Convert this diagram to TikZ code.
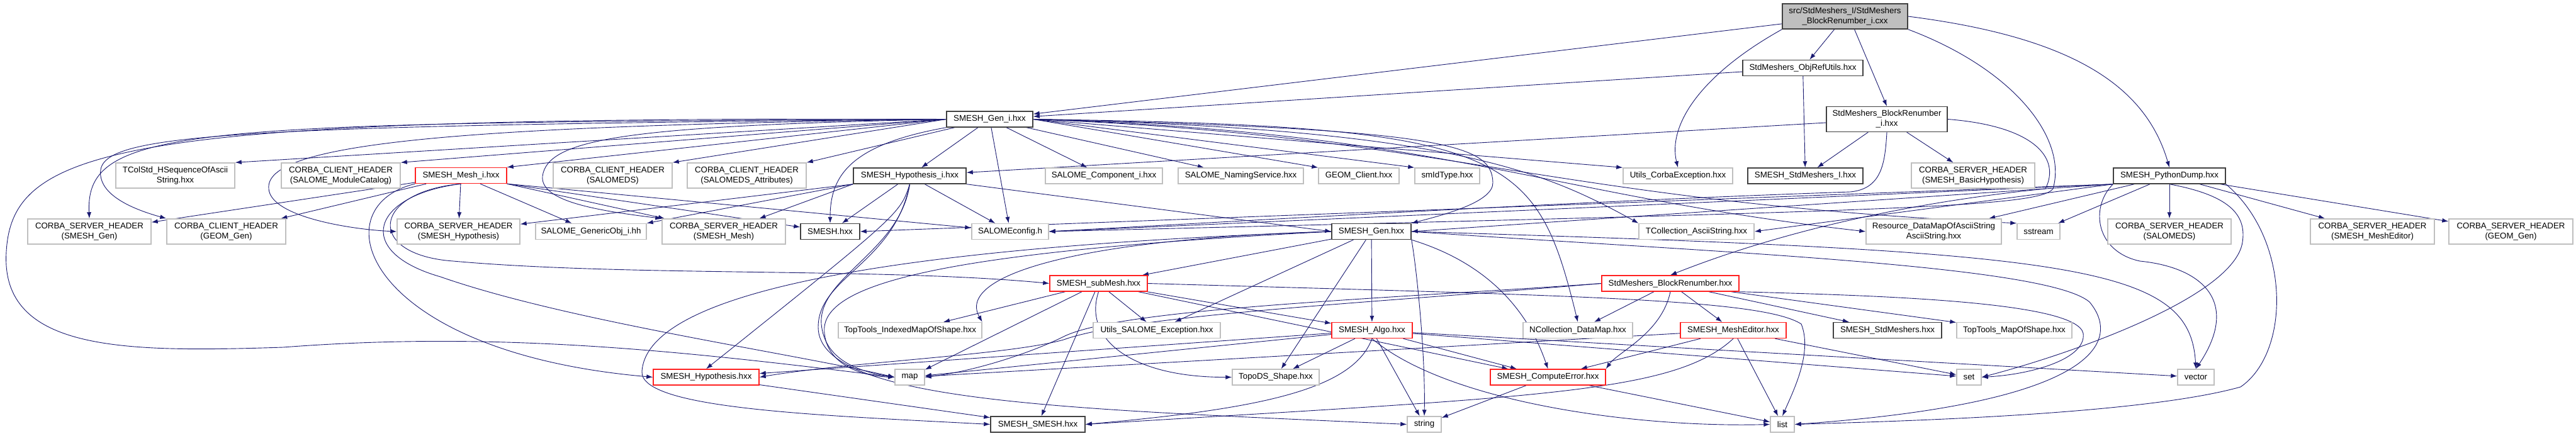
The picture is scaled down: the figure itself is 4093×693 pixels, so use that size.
\documentclass[tikz,border=0pt]{standalone}
\usepackage{fontspec}
\setmainfont{Liberation Sans}
\usetikzlibrary{arrows.meta, backgrounds}

\definecolor{edgeblue}{HTML}{191970}
\definecolor{hdrgray}{HTML}{BFBFBF}
\definecolor{docborder}{HTML}{404040}
\definecolor{truncred}{HTML}{FF2020}

\begin{document}
\begin{tikzpicture}[
    x=1pt, y=-1pt,
    every node/.style={
        rectangle,
        fill=white,
        line width=1.4pt,
        align=center,
        inner sep=0pt,
        minimum height=25pt,
        font=\fontsize{13.3}{16}\selectfont
    },
    hdrfile/.style={draw=hdrgray},
    docfile/.style={draw=docborder},
    truncfile/.style={draw=truncred},
    rootfile/.style={draw=docborder, fill=hdrgray},
    twoline/.style={minimum height=40pt},
    dep/.style={draw=edgeblue, line width=0.9pt, -{Latex[length=10pt,width=7pt]}}
]
    \useasboundingbox (0,0) rectangle (4093,693);

    % top of the graph
    \node (root) [rootfile, twoline, minimum width=199pt] at (2931.5,26) {src/StdMeshers\_I/StdMeshers\\\_BlockRenumber\_i.cxx};
    \node (objref) [docfile, minimum width=191pt] at (2864.5,108) {StdMeshers\_ObjRefUtils.hxx};
    \node (bri) [docfile, twoline, minimum width=192pt] at (2998,189.5) {StdMeshers\_BlockRenumber\\\_i.hxx};
    \node (geni) [docfile, minimum width=137pt] at (1572.5,189.5) {SMESH\_Gen\_i.hxx};

    % second row
    \node (tcolstd) [hdrfile, twoline, minimum width=189pt] at (278.5,279) {TColStd\_HSequenceOfAscii\\String.hxx};
    \node (clientmc) [hdrfile, twoline, minimum width=189pt] at (541.5,279) {CORBA\_CLIENT\_HEADER\\(SALOME\_ModuleCatalog)};
    \node (meshi) [truncfile, minimum width=145pt] at (732.5,279) {SMESH\_Mesh\_i.hxx};
    \node (clientds) [hdrfile, twoline, minimum width=189pt] at (973.5,279) {CORBA\_CLIENT\_HEADER\\(SALOMEDS)};
    \node (clientdsa) [hdrfile, twoline, minimum width=189pt] at (1186.5,279) {CORBA\_CLIENT\_HEADER\\(SALOMEDS\_Attributes)};
    \node (hypi) [docfile, minimum width=179pt] at (1445.5,279.5) {SMESH\_Hypothesis\_i.hxx};
    \node (compi) [hdrfile, minimum width=186pt] at (1754,279.5) {SALOME\_Component\_i.hxx};
    \node (naming) [hdrfile, minimum width=199pt] at (1971.5,279.5) {SALOME\_NamingService.hxx};
    \node (geomcl) [hdrfile, minimum width=128pt] at (2159,279.5) {GEOM\_Client.hxx};
    \node (smid) [hdrfile, minimum width=103pt] at (2299.5,279.5) {smIdType.hxx};
    \node (corbaexc) [hdrfile, minimum width=174pt] at (2666,279.5) {Utils\_CorbaException.hxx};
    \node (stdi) [docfile, minimum width=183pt] at (2868.5,279.5) {SMESH\_StdMeshers\_I.hxx};
    \node (basichyp) [hdrfile, twoline, minimum width=196pt] at (3135,279) {CORBA\_SERVER\_HEADER\\(SMESH\_BasicHypothesis)};
    \node (pydump) [docfile, minimum width=178pt] at (3447,279.5) {SMESH\_PythonDump.hxx};

    % third row
    \node (srvgen) [hdrfile, twoline, minimum width=196pt] at (142,368) {CORBA\_SERVER\_HEADER\\(SMESH\_Gen)};
    \node (clgeom) [hdrfile, twoline, minimum width=189pt] at (359.5,368) {CORBA\_CLIENT\_HEADER\\(GEOM\_Gen)};
    \node (srvhyp) [hdrfile, twoline, minimum width=195pt] at (728.5,368) {CORBA\_SERVER\_HEADER\\(SMESH\_Hypothesis)};
    \node (genobj) [hdrfile, minimum width=176pt] at (939,368) {SALOME\_GenericObj\_i.hh};
    \node (srvmesh) [hdrfile, twoline, minimum width=196pt] at (1150,368) {CORBA\_SERVER\_HEADER\\(SMESH\_Mesh)};
    \node (smesh) [docfile, minimum width=94pt] at (1319,368) {SMESH.hxx};
    \node (salomeconfig) [hdrfile, minimum width=122pt] at (1605,368) {SALOMEconfig.h};
    \node (smeshgen) [docfile, minimum width=126pt] at (2179,368) {SMESH\_Gen.hxx};
    \node (tcoll) [hdrfile, minimum width=183pt] at (2695.5,368) {TCollection\_AsciiString.hxx};
    \node (resource) [hdrfile, twoline, minimum width=215pt] at (3072.5,368) {Resource\_DataMapOfAsciiString\\AsciiString.hxx};
    \node (sstream) [hdrfile, minimum width=68pt] at (3239,368) {sstream};
    \node (srvds) [hdrfile, twoline, minimum width=196pt] at (3447,368) {CORBA\_SERVER\_HEADER\\(SALOMEDS)};
    \node (srvme) [hdrfile, twoline, minimum width=197pt] at (3769.5,368) {CORBA\_SERVER\_HEADER\\(SMESH\_MeshEditor)};
    \node (srvgeom) [hdrfile, twoline, minimum width=197pt] at (3989.5,368) {CORBA\_SERVER\_HEADER\\(GEOM\_Gen)};

    % lower rows
    \node (submesh) [truncfile, minimum width=155pt] at (1745.5,450.5) {SMESH\_subMesh.hxx};
    \node (blockren) [truncfile, minimum width=218pt] at (2654,450.5) {StdMeshers\_BlockRenumber.hxx};
    \node (ttimap) [hdrfile, minimum width=228pt] at (1446,525) {TopTools\_IndexedMapOfShape.hxx};
    \node (utilsexc) [hdrfile, minimum width=202pt] at (1838,525) {Utils\_SALOME\_Exception.hxx};
    \node (algo) [truncfile, minimum width=128pt] at (2180,525) {SMESH\_Algo.hxx};
    \node (ncoll) [hdrfile, minimum width=174pt] at (2507,525) {NCollection\_DataMap.hxx};
    \node (meshed) [truncfile, minimum width=168pt] at (2754,525) {SMESH\_MeshEditor.hxx};
    \node (stdmeshers) [docfile, minimum width=172pt] at (2999,525) {SMESH\_StdMeshers.hxx};
    \node (ttmap) [hdrfile, minimum width=183pt] at (3200.5,525) {TopTools\_MapOfShape.hxx};
    \node (hyp) [truncfile, minimum width=168pt] at (1122,599.5) {SMESH\_Hypothesis.hxx};
    \node (map) [hdrfile, minimum width=47pt] at (1445.5,599.5) {map};
    \node (topods) [hdrfile, minimum width=138pt] at (2027,599.5) {TopoDS\_Shape.hxx};
    \node (comperr) [truncfile, minimum width=183pt] at (2459.5,599.5) {SMESH\_ComputeError.hxx};
    \node (set) [hdrfile, minimum width=39pt] at (3128.5,599.5) {set};
    \node (vector) [hdrfile, minimum width=58pt] at (3489,599.5) {vector};
    \node (smeshsmesh) [docfile, minimum width=150pt] at (1649,674.5) {SMESH\_SMESH.hxx};
    \node (string) [hdrfile, minimum width=54pt] at (2263,674.5) {string};
    \node (list) [hdrfile, minimum width=38pt] at (2832,674.5) {list};

    \begin{scope}[on background layer]
    % root file
    \draw[dep] (root) -- (geni);
    \draw[dep] (root) -- (objref);
    \draw[dep] (root.south west) .. controls (2700,120) and (2650,200) .. (corbaexc.north);
    \draw[dep] ([xshift=15pt]root.south) -- (bri.north);
    \draw[dep] (root.east) .. controls (3300,60) and (3410,140) .. (pydump.north);
    \draw[dep] (root.south east) .. controls (3200,110) and (3285,220) .. (3262,300)
        .. controls (3240,330) and (3000,335) .. (salomeconfig.east);
    \draw[dep] (objref) -- (geni);
    \draw[dep] (objref) -- (stdi);

    % StdMeshers_BlockRenumber_i.hxx
    \draw[dep] (bri) -- (hypi);
    \draw[dep] (bri) -- (stdi);
    \draw[dep] (bri) -- (basichyp);
    \draw[dep] (bri.east) .. controls (3230,200) and (3275,250) .. (3250,300)
        .. controls (3150,310) and (2900,340) .. (blockren.north);
    \draw[dep] (bri.south) .. controls (2995,260) and (2990,300) .. (2940,305)
        .. controls (2500,320) and (2000,350) .. (salomeconfig.east);

    % SMESH_PythonDump.hxx
    \draw[dep] (pydump.south west) -- (salomeconfig.east);
    \draw[dep] (pydump.south west) -- (smesh.east);
    \draw[dep] (pydump.south west) -- (smeshgen.east);
    \draw[dep] (pydump.south west) -- (tcoll.east);
    \draw[dep] (pydump) -- (resource);
    \draw[dep] (pydump) -- (sstream);
    \draw[dep] (pydump) -- (srvds);
    \draw[dep] (pydump) -- (srvme);
    \draw[dep] (pydump) -- (srvgeom);
    \draw[dep] (pydump.south west) .. controls (3320,330) and (3330,400) .. (3400,415)
        .. controls (3500,425) and (3560,480) .. (vector.north);
    \draw[dep] (pydump.south) .. controls (3540,310) and (3570,340) .. (3563,385)
        .. controls (3550,470) and (3300,560) .. (set.east);
    \draw[dep] (pydump.south east) .. controls (3640,380) and (3640,560) .. (3560,615)
        .. controls (3400,660) and (3000,670) .. (list.east);

    % SMESH_Gen_i.hxx
    \draw[dep] (geni.west) -- (tcolstd.north east);
    \draw[dep] (geni.west) -- (clientmc.north east);
    \draw[dep] (geni.west) -- (meshi.north east);
    \draw[dep] (geni.west) -- (clientds.north east);
    \draw[dep] (geni) -- (clientdsa.north east);
    \draw[dep] (geni) -- (hypi);
    \draw[dep] (geni) -- (compi);
    \draw[dep] (geni) -- (naming);
    \draw[dep] (geni.east) -- (geomcl.north west);
    \draw[dep] (geni.east) -- (smid.north west);
    \draw[dep] (geni.east) -- (corbaexc.north west);
    \draw[dep] (geni.west) .. controls (300,195) and (135,200) .. (srvgen.north);
    \draw[dep] (geni.west) .. controls (300,200) and (150,215) .. (160,280)
        .. controls (165,315) and (220,335) .. (clgeom.north west);
    \draw[dep] (geni.west) .. controls (200,185) and (20,230) .. (10,400)
        .. controls (0,560) and (200,560) .. (450,552)
        .. controls (800,525) and (1100,560) .. (map.west);
    \draw[dep] (geni.west) .. controls (700,200) and (420,230) .. (427,300)
        .. controls (430,345) and (560,365) .. (srvhyp.west);
    \draw[dep] (geni.west) .. controls (1000,200) and (870,220) .. (862,280)
        .. controls (858,320) and (950,335) .. (srvmesh.north west);
    \draw[dep] (geni.south west) .. controls (1350,230) and (1319,280) .. (smesh.north);
    \draw[dep] (geni) -- (salomeconfig);
    \draw[dep] (geni.east) .. controls (2300,205) and (2370,230) .. (2372,290)
        .. controls (2373,320) and (2300,340) .. (smeshgen.north east);
    \draw[dep] (geni.east) .. controls (2300,205) and (2450,270) .. (tcoll.north west);
    \draw[dep] (geni.east) .. controls (2300,210) and (2450,310) .. (resource.west);
    \draw[dep] (geni.east) .. controls (2300,215) and (2460,320) .. (sstream.north west);
    \draw[dep] (geni.east) .. controls (2400,200) and (2440,240) .. (ncoll.north);

    % SMESH_Mesh_i.hxx
    \draw[dep] (meshi) -- (srvgen);
    \draw[dep] (meshi) -- (clgeom);
    \draw[dep] (meshi) -- (srvhyp);
    \draw[dep] (meshi) -- (genobj);
    \draw[dep] (meshi.south east) -- (srvmesh);
    \draw[dep] (meshi.south east) -- (smesh);
    \draw[dep] (meshi.south east) -- (salomeconfig);
    \draw[dep] (meshi.south west) .. controls (505,330) and (580,560) .. (hyp.west);
    \draw[dep] (meshi.south) .. controls (590,310) and (560,400) .. (700,440)
        .. controls (900,510) and (1250,560) .. (map.west);
    \draw[dep] (meshi.south) .. controls (590,305) and (580,405) .. (720,415)
        .. controls (1000,440) and (1400,425) .. (submesh.west);

    % SMESH_Hypothesis_i.hxx
    \draw[dep] (hypi.south west) -- (srvhyp);
    \draw[dep] (hypi.south west) -- (genobj.north east);
    \draw[dep] (hypi.south west) -- (srvmesh);
    \draw[dep] (hypi) -- (smesh);
    \draw[dep] (hypi) -- (salomeconfig);
    \draw[dep] (hypi.south) .. controls (1430,340) .. (hyp.north);
    \draw[dep] (hypi.south east) -- (smeshgen.west);
    \draw[dep] (hypi.south) .. controls (1430,400) and (1300,440) .. (1305,515)
        .. controls (1310,570) and (1360,590) .. (map.west);
    \draw[dep] (hypi.south) .. controls (1420,420) and (1300,440) .. (1300,520)
        .. controls (1300,640) and (1700,650) .. (string.west);

    % SMESH_Gen.hxx
    \draw[dep] (smeshgen.west) .. controls (1500,390) and (1030,450) .. (1020,590)
        .. controls (1015,650) and (1300,660) .. (smeshsmesh.west);
    \draw[dep] (smeshgen.west) .. controls (1500,400) and (1300,450) .. (1310,530)
        .. controls (1315,580) and (1370,598) .. (map.west);
    \draw[dep] (smeshgen) -- (submesh);
    \draw[dep] (smeshgen.west) .. controls (1700,380) and (1520,440) .. (ttimap.north east);
    \draw[dep] (smeshgen) -- (utilsexc);
    \draw[dep] (smeshgen) -- (topods);
    \draw[dep] (smeshgen) -- (algo);
    \draw[dep] (smeshgen.south east) .. controls (2250,420) and (2265,560) .. (string.north);
    \draw[dep] (smeshgen.south east) .. controls (2370,420) and (2430,500) .. (comperr.north);
    \draw[dep] (smeshgen.east) .. controls (2700,400) and (3250,420) .. (3320,480)
        .. controls (3370,540) and (3340,640) .. (list.east);
    \draw[dep] (smeshgen.east) .. controls (3300,400) and (3480,420) .. (vector.north);

    % SMESH_subMesh.hxx
    \draw[dep] (submesh) -- (ttimap);
    \draw[dep] (submesh) -- (map);
    \draw[dep] (submesh) -- (utilsexc);
    \draw[dep] (submesh) -- (smeshsmesh);
    \draw[dep] (submesh.south) .. controls (1720,540) and (1800,600) .. (topods.west);
    \draw[dep] (submesh) -- (comperr);
    \draw[dep] (submesh) -- (algo);
    \draw[dep] (submesh.east) .. controls (2500,470) and (2800,475) .. (2862,515)
        .. controls (2880,560) and (2850,620) .. (list.north);

    % SMESH_Algo.hxx
    \draw[dep] (algo) -- (hyp);
    \draw[dep] (algo) -- (map);
    \draw[dep] (algo) -- (topods);
    \draw[dep] (algo.south) .. controls (2150,620) and (2000,650) .. (smeshsmesh.east);
    \draw[dep] (algo) -- (string);
    \draw[dep] (algo.south) .. controls (2300,640) and (2600,680) .. (list.west);
    \draw[dep] (algo) -- (comperr);
    \draw[dep] (algo) -- (vector);
    \draw[dep] (algo) -- (set);

    % StdMeshers_BlockRenumber.hxx
    \draw[dep] (blockren) -- (ncoll);
    \draw[dep] (blockren) -- (meshed);
    \draw[dep] (blockren.south) .. controls (2640,530) and (2570,560) .. (comperr.north east);
    \draw[dep] (blockren) -- (stdmeshers);
    \draw[dep] (blockren) -- (ttmap);
    \draw[dep] (blockren.west) .. controls (2200,475) and (1780,490) .. (1690,535)
        .. controls (1640,560) and (1550,590) .. (map.east);
    \draw[dep] (blockren.west) .. controls (2200,480) and (1800,500) .. (1690,540)
        .. controls (1600,565) and (1350,575) .. (hyp.east);
    \draw[dep] (blockren.south east) .. controls (3000,470) and (3300,480) .. (3310,530)
        .. controls (3315,570) and (3230,595) .. (set.east);

    % SMESH_MeshEditor.hxx
    \draw[dep] (meshed) -- (comperr);
    \draw[dep] (meshed) -- (list);
    \draw[dep] (meshed) -- (set);
    \draw[dep] (meshed) -- (map);
    \draw[dep] (meshed.south) .. controls (2660,625) and (2450,630) .. (smeshsmesh.east);

    % leaves of the lower part
    \draw[dep] (comperr) -- (string);
    \draw[dep] (comperr) -- (list);
    \draw[dep] (hyp) -- (smeshsmesh);
    \end{scope}
\end{tikzpicture}
\end{document}
